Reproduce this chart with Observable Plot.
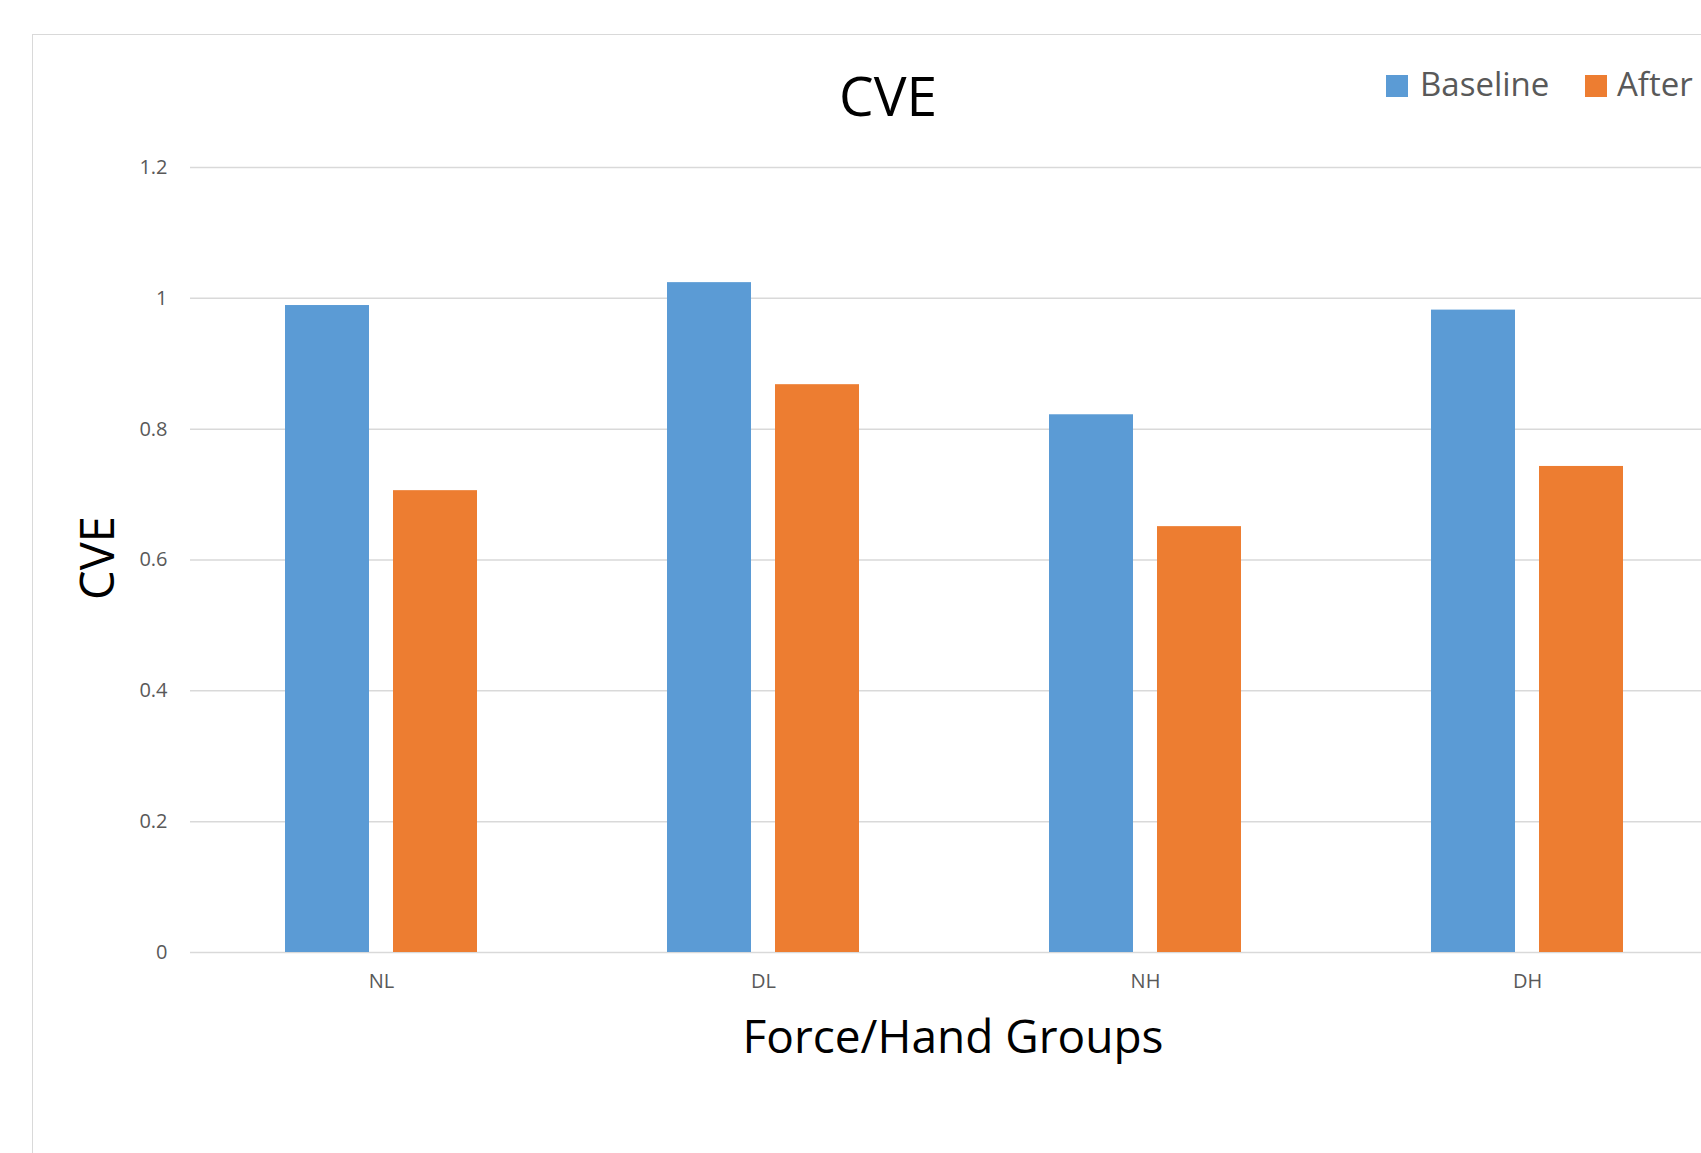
<!DOCTYPE html>
<html>
<head>
<meta charset="utf-8">
<script src="https://cdn.jsdelivr.net/npm/d3@7"></script>
<script src="https://cdn.jsdelivr.net/npm/@observablehq/plot@0.6"></script>
<style>
  html, body { margin: 0; padding: 0; background: #fff; }
  body { width: 1701px; height: 1153px; overflow: hidden; position: relative; font-family: "Open Sans", sans-serif; }
  #frame { position: absolute; left: 32px; top: 34px; width: 2000px; height: 2000px; border: 1.5px solid #d9d9d9; box-sizing: border-box; }
  #chart { position: absolute; left: 0; top: 0; }
  .t { position: absolute; line-height: 1; white-space: nowrap; }
  #title { font-size: 55px; color: #000; left: 888px; top: 67px; transform: translateX(-50%); }
  #xtitle { font-size: 46px; color: #000; left: 953px; top: 1012px; transform: translateX(-50%); }
  #ytitle { font-size: 47px; color: #000; left: 96px; top: 558px; transform: translate(-50%, -50%) rotate(-90deg); }
  .sw { position: absolute; width: 22px; height: 22px; }
</style>
</head>
<body>
<div id="frame"></div>
<div id="chart"></div>
<div id="title" class="t">CVE</div>
<div id="xtitle" class="t">Force/Hand Groups</div>
<div id="ytitle" class="t">CVE</div>
<div id="legend"></div>
<script>
const groups = ["NL", "DL", "NH", "DH"];
const seriesNames = ["Baseline", "After"];
const baseline = [0.989, 1.024, 0.822, 0.982];
const after = [0.706, 0.868, 0.651, 0.743];
const yTicks = [0, 0.2, 0.4, 0.6, 0.8, 1, 1.2];
const colors = ["#5b9bd5", "#ed7d31"];

const data = [];
groups.forEach((g, i) => {
  data.push({group: g, series: seriesNames[0], value: baseline[i]});
  data.push({group: g, series: seriesNames[1], value: after[i]});
});

const chart = Plot.plot({
  width: 1718,
  height: 1153,
  marginLeft: 190,
  marginRight: 0,
  marginTop: 167,
  marginBottom: 201,
  style: {fontFamily: "Open Sans", fontSize: "20px", color: "#595959", background: "transparent", maxWidth: "none", overflow: "visible"},
  fx: {domain: groups, padding: 0, axis: "bottom", tickSize: 0, tickPadding: 21, label: null},
  x: {domain: seriesNames, paddingInner: 0.22, paddingOuter: 0.867, axis: null},
  y: {domain: [0, 1.2], ticks: yTicks, tickFormat: d => String(d), tickSize: 0, tickPadding: 23, label: null},
  color: {domain: seriesNames, range: colors},
  marks: [
    Plot.ruleY(yTicks, {stroke: "#d9d9d9", strokeWidth: 1.5}),
    Plot.barY(data, {fx: "group", x: "series", y: "value", fill: "series"})
  ]
});
document.getElementById("chart").appendChild(chart);

// legend
const legendPos = [{sw: 1386, tx: 1420}, {sw: 1585, tx: 1617}];
const leg = document.getElementById("legend");
seriesNames.forEach((s, i) => {
  const sw = document.createElement("div");
  sw.className = "sw";
  sw.style.left = legendPos[i].sw + "px";
  sw.style.top = "75px";
  sw.style.background = colors[i];
  leg.appendChild(sw);
  const tx = document.createElement("div");
  tx.className = "t";
  tx.style.left = legendPos[i].tx + "px";
  tx.style.top = "67px";
  tx.style.fontSize = "33px";
  tx.style.color = "#595959";
  tx.textContent = s;
  leg.appendChild(tx);
});
</script>
</body>
</html>
